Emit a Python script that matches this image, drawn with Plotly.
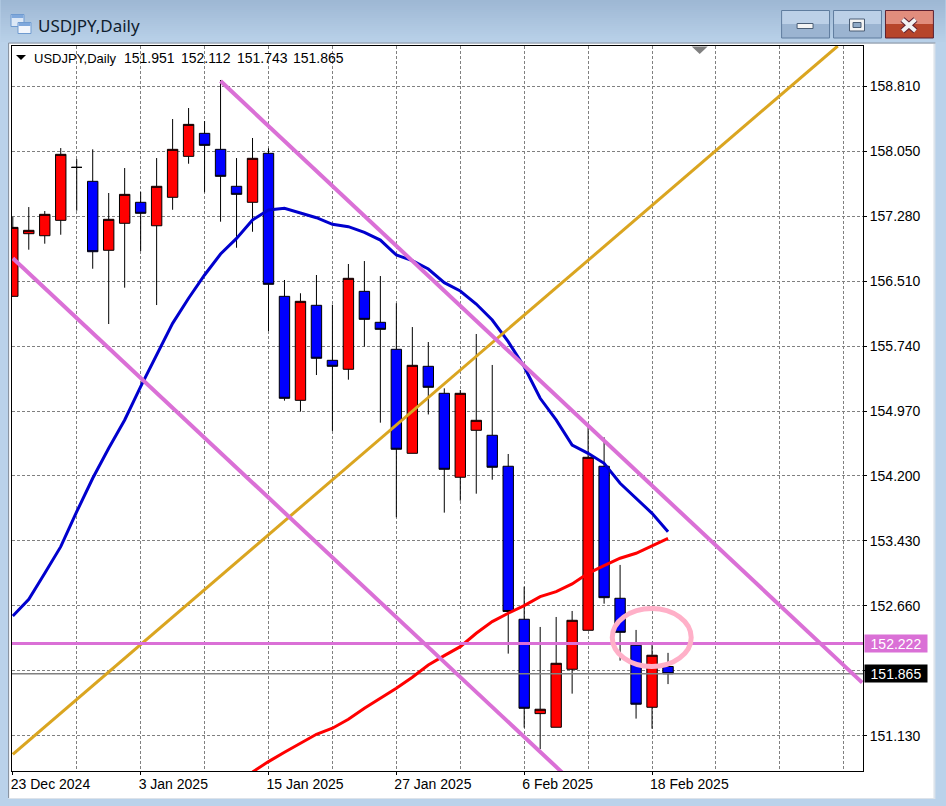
import plotly.graph_objects as go

W, H = 946, 806
L, R, T, B = 11.5, 863.5, 46, 771

idx = list(range(42))
opens = [156.325,157.065,157.041,157.223,157.849,157.684,156.869,157.188,157.436,157.159,157.495,157.979,
         158.251,158.062,157.625,157.436,158.015,156.325,155.096,156.219,155.569,155.463,156.384,156.018,
         155.699,154.470,155.498,155.179,154.187,154.742,154.683,154.317,152.509,151.394,151.233,151.918,
         152.379,154.317,152.757,152.202,151.469,151.951]
highs = [157.266,157.380,157.333,158.077,157.947,158.062,157.546,157.841,157.558,157.959,158.420,158.550,
         158.396,158.881,157.959,158.196,158.074,156.518,156.361,156.577,156.226,156.707,156.742,156.565,
         156.243,155.962,155.785,155.238,155.218,155.880,155.514,154.462,152.894,152.418,152.536,152.607,
         154.781,154.659,153.151,152.383,152.205,152.112]
lows = [156.320,156.876,156.947,157.053,157.337,156.651,155.998,156.427,156.860,156.222,157.348,157.892,
        157.554,157.207,156.899,157.088,155.915,155.092,154.962,155.395,154.734,155.340,155.730,154.832,
        153.714,154.470,154.929,153.769,153.910,153.993,154.158,152.103,151.228,150.976,151.233,151.630,
        152.379,152.693,152.020,151.335,151.216,151.743]
closes = [157.140,157.105,157.294,158.003,157.849,156.852,157.235,157.530,157.306,157.625,158.062,158.357,
          158.109,157.743,157.530,157.956,156.467,155.120,156.266,155.593,155.498,156.538,156.053,155.935,
          154.518,155.510,155.250,154.281,155.179,154.860,154.305,152.601,151.457,151.446,151.989,152.497,
          154.423,152.764,152.355,151.505,152.084,151.865]

blue_ma = [152.548,152.745,153.052,153.367,153.780,154.175,154.529,154.864,155.257,155.632,156.006,156.302,
           156.577,156.825,157.010,157.227,157.345,157.365,157.306,157.254,157.176,157.148,157.081,156.990,
           156.813,156.746,156.648,156.486,156.388,156.234,156.045,155.789,155.493,155.120,154.864,154.568,
           154.470,154.352,154.116,153.938,153.761,153.544]
red_idx = list(range(15, 42))
red_ma = [150.705,150.827,150.938,151.044,151.150,151.221,151.328,151.457,151.576,151.694,151.824,151.969,
          152.079,152.185,152.344,152.481,152.580,152.670,152.776,152.835,152.926,153.052,153.142,153.230,
          153.289,153.375,153.466]

trend_down_x = [13, 53.15]
trend_down_y = [158.869, 151.760]
trend_low_x = [0, 34.37]
trend_low_y = [156.774, 150.700]
trend_up_x = [0, 51.62]
trend_up_y = [150.914, 159.283]
level_price = 152.222
last_price = 151.865
ellipse_x = [37.51, 42.45]
ellipse_y = [151.951, 152.637]

x_range = [-0.05, 53.2]
y_range = [150.716, 159.283]
price_ticks = [158.81, 158.042, 157.274, 156.506, 155.738, 154.97, 154.202, 153.434, 152.666, 151.898, 151.13]
price_labels = ["158.810", "158.050", "157.280", "156.510", "155.740", "154.970", "154.200", "153.430", "152.660", "", "151.130"]
date_ticks = [0, 8, 16, 24, 32, 40]
date_labels = ["23 Dec 2024", "3 Jan 2025", "15 Jan 2025", "27 Jan 2025", "6 Feb 2025", "18 Feb 2025"]
grid_x = [4, 8, 12, 16, 20, 24, 28, 32, 36, 40, 44, 48, 52]
symbol_label = "USDJPY,Daily"
ohlc_labels = ["151.951", "152.112", "151.743", "151.865"]

FONT = "Liberation Sans"
ORCHID = "#DA70D6"


def px(x):
    return (x - L) / (R - L)


def py(y):
    return 1 - (y - T) / (B - T)


def rect(x0, y0, x1, y1, fill, line=None, lw=1):
    return dict(type="rect", xref="paper", yref="paper", x0=px(x0), x1=px(x1), y0=py(y1), y1=py(y0),
                fillcolor=fill, line=dict(color=line or fill, width=lw if line else 0), layer="below")


def seg(x0, y0, x1, y1, color, lw):
    return dict(type="line", xref="paper", yref="paper", x0=px(x0), x1=px(x1), y0=py(y0), y1=py(y1),
                line=dict(color=color, width=lw), layer="below")


def path(points, fill):
    d = "M " + " L ".join(f"{px(a):.5f},{py(b):.5f}" for a, b in points) + " Z"
    return dict(type="path", xref="paper", yref="paper", path=d, fillcolor=fill, line=dict(width=0))


shapes = []
# title bar gradient
steps = 22
for k in range(steps):
    f = k / (steps - 1)
    c = f"rgb({int(158 + 28 * f)},{int(184 + 26 * f)},{int(212 + 22 * f)})"
    shapes.append(rect(0, k * 2, W, (k + 1) * 2, c))
# window frame
shapes.append(rect(8, 43, 936, 799, "#DDE3EA"))
shapes.append(rect(9, 44, 934, 798, "#FFFFFF"))
shapes.append(seg(8, 43, 936, 43, "#8A95A3", 1))
shapes.append(seg(8, 43, 8, 798, "#8A95A3", 1))
# title icon
shapes.append(rect(10.5, 14.5, 23.5, 26.5, "#DCE8F6", "#6F9BD0"))
shapes.append(rect(11, 15, 23, 18, "#7FA8DC"))
shapes.append(rect(17.5, 22.5, 30.5, 33.5, "#F2F6FC", "#6F9BD0"))
shapes.append(rect(18, 23, 30, 26, "#7FA8DC"))
# window buttons
for x0, x1, top, bottom, edge in [(782, 830, "#BCD0E7", "#9BB4D1", "#5F7C9E"),
                                  (834, 882, "#BCD0E7", "#9BB4D1", "#5F7C9E"),
                                  (886, 934, "#E18D7D", "#B7452B", "#5C2030")]:
    shapes.append(rect(x0, 10.5, x1, 24, top))
    shapes.append(rect(x0, 24, x1, 38, bottom))
    shapes.append(dict(type="rect", xref="paper", yref="paper", x0=px(x0), x1=px(x1), y0=py(38), y1=py(10.5),
                       fillcolor="rgba(0,0,0,0)", line=dict(color=edge, width=1), layer="below"))
shapes.append(rect(797.5, 23.5, 813.5, 28.5, "#F4F4F4", "#4A5D75"))
shapes.append(rect(850, 19, 865, 31, "#F4F4F4", "#4A5D75"))
shapes.append(rect(853.5, 22.5, 861.5, 27.5, "#8FA9C6", "#4A5D75"))
shapes.append(seg(903, 19.5, 916, 31, "#5C2030", 6))
shapes.append(seg(916, 19.5, 903, 31, "#5C2030", 6))
shapes.append(seg(903, 19.5, 916, 31, "#F2F2F2", 4))
shapes.append(seg(916, 19.5, 903, 31, "#F2F2F2", 4))
# chart markers
shapes.append(path([(15.5, 55), (25.5, 55), (20.5, 60)], "#000000"))
shapes.append(path([(692, 46.5), (708, 46.5), (700, 54)], "#808080"))
# ellipse drawn on the price scales
shapes.append(dict(type="circle", xref="x", yref="y", x0=ellipse_x[0], x1=ellipse_x[1],
                   y0=ellipse_y[0], y1=ellipse_y[1], line=dict(color="#FFB0C8", width=5),
                   fillcolor="rgba(0,0,0,0)", layer="above"))

fig = go.Figure()
fig.add_trace(go.Scatter(x=[x_range[0], x_range[1]], y=[last_price, last_price], mode="lines",
                         line=dict(color="#808080", width=1.5), name="Last price", hoverinfo="skip"))
fig.add_trace(go.Candlestick(x=idx, open=opens, high=highs, low=lows, close=closes, name="USDJPY",
                             whiskerwidth=0,
                             increasing=dict(fillcolor="#FF0000", line=dict(color="#000000", width=1)),
                             decreasing=dict(fillcolor="#0000FF", line=dict(color="#000000", width=1))))
fig.add_trace(go.Scatter(x=idx, y=blue_ma, mode="lines", line=dict(color="#0000CD", width=3), name="MA blue"))
fig.add_trace(go.Scatter(x=red_idx, y=red_ma, mode="lines", line=dict(color="#FF0000", width=3), name="MA red"))
fig.add_trace(go.Scatter(x=trend_up_x, y=trend_up_y, mode="lines", line=dict(color="#DAA520", width=3), name="Up trend"))
fig.add_trace(go.Scatter(x=trend_down_x, y=trend_down_y, mode="lines", line=dict(color=ORCHID, width=4), name="Down trend"))
fig.add_trace(go.Scatter(x=trend_low_x, y=trend_low_y, mode="lines", line=dict(color=ORCHID, width=4), name="Lower trend"))
fig.add_trace(go.Scatter(x=x_range, y=[level_price, level_price], mode="lines", line=dict(color=ORCHID, width=3), name="Level"))

annotations = [
    dict(x=px(35.5), y=py(26), xref="paper", yref="paper", text=symbol_label, showarrow=False, xanchor="left",
         yanchor="middle", font=dict(family="Noto Sans", size=17, color="#10202E")),
    dict(x=px(32), y=py(58), xref="paper", yref="paper", text=symbol_label, showarrow=False, xanchor="left",
         yanchor="middle", font=dict(family=FONT, size=13, color="#000000")),
    dict(x=px(865), y=level_price, xref="paper", yref="y", text=f"{level_price:.3f}", showarrow=False, xanchor="left",
         yanchor="middle", width=62, height=17, align="center", bgcolor=ORCHID,
         font=dict(family=FONT, size=14, color="#FFFFFF"), borderpad=0),
    dict(x=px(865), y=last_price, xref="paper", yref="y", text=f"{last_price:.3f}", showarrow=False, xanchor="left",
         yanchor="middle", width=62, height=17, align="center", bgcolor="#000000",
         font=dict(family=FONT, size=14, color="#FFFFFF"), borderpad=0),
]
for pos, lab in zip([122, 178.3, 234.7, 291], ohlc_labels):
    annotations.append(dict(x=px(pos), y=py(58), xref="paper", yref="paper", text=lab, showarrow=False,
                            xanchor="left", yanchor="middle", font=dict(family=FONT, size=14, color="#000000")))

fig.update_layout(
    width=W, height=H, margin=dict(l=L, r=W - R, t=T, b=H - B, pad=0, autoexpand=False),
    paper_bgcolor="#BAD2EA", plot_bgcolor="#FFFFFF", showlegend=False, boxgap=0.35, boxgroupgap=0,
    shapes=shapes, annotations=annotations, hovermode=False,
    xaxis=dict(type="linear", range=x_range, rangeslider=dict(visible=False), showgrid=False, zeroline=False,
               tickmode="array", tickvals=date_ticks, ticktext=date_labels, ticks="outside", ticklen=3,
               tickcolor="#000000", ticklabelposition="outside right", ticklabelshift=-3,
               tickfont=dict(family=FONT, size=14, color="#000000"),
               showline=True, mirror=True, linecolor="#000000", linewidth=1,
               minor=dict(tickmode="array", tickvals=grid_x, showgrid=True, gridcolor="#808080", gridwidth=1,
                          griddash="3px,2px", ticks="")),
    yaxis=dict(range=y_range, side="right", zeroline=False, tickmode="array", tickvals=price_ticks,
               ticktext=price_labels, ticks="outside", ticklen=3, tickcolor="#000000",
               tickfont=dict(family=FONT, size=14, color="#000000"), showgrid=True, gridcolor="#808080",
               gridwidth=1, griddash="3px,2px", showline=True, mirror=True, linecolor="#000000", linewidth=1),
)

fig.write_html("out.html", config=dict(displayModeBar=False),
               post_script="document.body.style.margin='0';document.body.style.overflow='hidden';")
